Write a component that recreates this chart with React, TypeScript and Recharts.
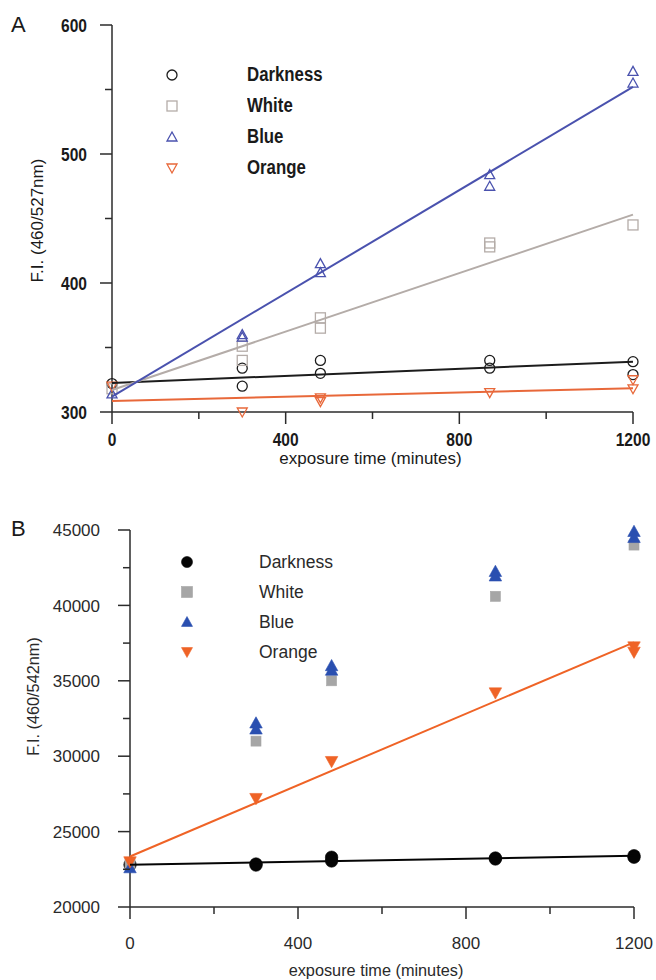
import React from "react";
import { ScatterChart, Scatter, XAxis, YAxis, Legend } from "recharts";

// [time (minutes), F.I.] pairs
const darknessA = [[0, 322], [300, 334], [300, 320], [480, 340], [480, 330], [870, 340], [870, 334], [1200, 339], [1200, 329]];
const whiteA = [[0, 318], [300, 351], [300, 340], [480, 373], [480, 365], [870, 431], [870, 428], [1200, 445]];
const blueA = [[0, 314], [300, 360], [300, 358], [480, 415], [480, 408], [870, 484], [870, 475], [1200, 564], [1200, 555]];
const orangeA = [[0, 320], [300, 300], [480, 311], [480, 308], [870, 315], [1200, 325], [1200, 318]];

// fitted lines, end points
const darknessFitA = [[0, 322.5], [1200, 339]];
const whiteFitA = [[0, 317], [1200, 453]];
const blueFitA = [[0, 312], [1200, 552]];
const orangeFitA = [[0, 308.5], [1200, 318.5]];

const darknessB = [[0, 22800], [300, 22780], [300, 22850], [480, 23300], [480, 23050], [870, 23250], [870, 23180], [1200, 23400], [1200, 23300]];
const whiteB = [[0, 22900], [300, 31000], [480, 35000], [870, 40600], [1200, 44000]];
const blueB = [[0, 22600], [300, 32200], [300, 31800], [480, 36000], [480, 35700], [870, 42250], [870, 41950], [1200, 44900], [1200, 44500]];
const orangeB = [[0, 23000], [300, 27200], [480, 29650], [870, 34200], [1200, 37250], [1200, 36900]];

const darknessFitB = [[0, 22800], [1200, 23400]];
const orangeFitB = [[0, 23350], [1200, 37550]];

const seriesNames = ["Darkness", "White", "Blue", "Orange"];

const xTicks = [0, 200, 400, 600, 800, 1000, 1200];
const xMajor = [0, 400, 800, 1200];
const yTicksA = [300, 350, 400, 450, 500, 550, 600];
const yMajorA = [300, 400, 500, 600];
const yTicksB = [20000, 22500, 25000, 27500, 30000, 32500, 35000, 37500, 40000, 42500, 45000];
const yMajorB = [20000, 25000, 30000, 35000, 40000, 45000];

type Kind = "circle" | "square" | "up" | "down";
type Row = { t: number; v: number };
type Font = { style: React.CSSProperties; sx: number };
const rows = (pairs: number[][]): Row[] => pairs.map(([t, v]) => ({ t, v }));

const AXIS = "#2b2b2b";
const TICK = 12;
const MINOR = 7;

const colorsA = ["#1c1c1c", "#b4aca8", "#4a52ae", "#e8683a"];
const colorsB = ["#050505", "#a6a6a6", "#2a4fb0", "#ef6326"];
const kinds: Kind[] = ["circle", "square", "up", "down"];

function Marker({ cx, cy, kind, color, filled, size }: { cx: number; cy: number; kind: Kind; color: string; filled: boolean; size: number }) {
  const h = size / 2;
  const st = { stroke: color, strokeWidth: filled ? 0.6 : 1.3, fill: filled ? color : "none" };
  if (kind === "circle") return <circle cx={cx} cy={cy} r={h} {...st} />;
  if (kind === "square") return <rect x={cx - h} y={cy - h} width={size} height={size} {...st} />;
  const d =
    kind === "up"
      ? `M${cx},${cy - h}L${cx + h},${cy + h * 0.8}L${cx - h},${cy + h * 0.8}Z`
      : `M${cx},${cy + h}L${cx + h},${cy - h * 0.8}L${cx - h},${cy - h * 0.8}Z`;
  return <path d={d} {...st} />;
}

function makeXTick(major: number[], margin: number, f: Font) {
  return (p: any) => {
    const { x, y, payload } = p;
    const axisY = y - TICK - margin;
    const isMajor = major.includes(payload.value);
    return (
      <g>
        <line x1={x} x2={x} y1={axisY} y2={axisY + (isMajor ? TICK : MINOR)} stroke={AXIS} strokeWidth={1.5} />
        {isMajor && (
          <text transform={`translate(${x},${y}) scale(${f.sx},1)`} dy="0.71em" textAnchor="middle" style={f.style}>
            {payload.value}
          </text>
        )}
      </g>
    );
  };
}

function makeYTick(major: number[], margin: number, f: Font) {
  return (p: any) => {
    const { x, y, payload } = p;
    const axisX = x + TICK + margin;
    const isMajor = major.includes(payload.value);
    return (
      <g>
        <line x1={axisX - (isMajor ? TICK : MINOR)} x2={axisX} y1={y} y2={y} stroke={AXIS} strokeWidth={1.5} />
        {isMajor && (
          <text transform={`translate(${x},${y}) scale(${f.sx},1)`} dy="0.36em" textAnchor="end" style={f.style}>
            {payload.value}
          </text>
        )}
      </g>
    );
  };
}

// axis titles, placed from the axis box
function xTitle(text: string, dx: number, baseline: number, style: React.CSSProperties) {
  return (p: any) => {
    const vb = p.viewBox;
    return (
      <text x={vb.x + vb.width / 2 + dx} y={vb.y + baseline} textAnchor="middle" style={style}>
        {text}
      </text>
    );
  };
}

function yTitle(text: string, fromAxis: number, dy: number, style: React.CSSProperties) {
  return (p: any) => {
    const vb = p.viewBox;
    const cx = vb.x + vb.width - fromAxis;
    const cy = vb.y + vb.height / 2 + dy;
    return (
      <text x={cx} y={cy} dy="0.36em" transform={`rotate(-90 ${cx} ${cy})`} textAnchor="middle" style={style}>
        {text}
      </text>
    );
  };
}

function makeLegend(colors: string[], filled: boolean, size: number, rowH: number, gap: number, f: Font) {
  return () => (
    <div>
      {seriesNames.map((n, i) => (
        <div key={n} style={{ display: "flex", alignItems: "center", height: rowH, whiteSpace: "nowrap" }}>
          <svg width={16} height={16} style={{ flex: "none" }}>
            <Marker cx={8} cy={8} kind={kinds[i]} color={colors[i]} filled={filled} size={size} />
          </svg>
          <span style={{ marginLeft: gap, display: "inline-block", transform: `scaleX(${f.sx})`, transformOrigin: "left center", ...f.style }}>{n}</span>
        </div>
      ))}
    </div>
  );
}

const SANS = "'Liberation Sans', Arial, sans-serif";
const tickA: Font = { style: { fontFamily: SANS, fontSize: 19, fontWeight: 700, fill: "#1a1a1a" }, sx: 0.82 };
const legendA: Font = { style: { fontFamily: SANS, fontSize: 20, fontWeight: 700, color: "#1a1a1a" }, sx: 0.84 };
const titleA: React.CSSProperties = { fontFamily: SANS, fontSize: 17, fill: "#1a1a1a" };
const tickB: Font = { style: { fontFamily: SANS, fontSize: 17, fill: "#2a2a2a" }, sx: 1 };
const legendB: Font = { style: { fontFamily: SANS, fontSize: 17.5, color: "#2a2a2a" }, sx: 1 };
const titleB: React.CSSProperties = { fontFamily: SANS, fontSize: 16.3, fill: "#2a2a2a" };

function PanelA() {
  const pts = [darknessA, whiteA, blueA, orangeA];
  const fits = [darknessFitA, whiteFitA, blueFitA, orangeFitA];
  return (
    <ScatterChart width={656} height={490} margin={{ top: 25, right: 23, bottom: 18, left: 32 }}>
      <XAxis
        type="number"
        dataKey="t"
        domain={[0, 1200]}
        ticks={xTicks}
        height={60}
        tickSize={TICK}
        tickMargin={9}
        tickLine={false}
        axisLine={{ stroke: AXIS, strokeWidth: 1.5 }}
        tick={makeXTick(xMajor, 9, tickA)}
        label={{ content: xTitle("exposure time (minutes)", -2, 52, titleA) }}
      />
      <YAxis
        type="number"
        dataKey="v"
        domain={[300, 600]}
        ticks={yTicksA}
        width={80}
        tickSize={TICK}
        tickMargin={13}
        tickLine={false}
        axisLine={{ stroke: AXIS, strokeWidth: 1.5 }}
        tick={makeYTick(yMajorA, 13, tickA)}
        label={{ content: yTitle("F.I. (460/527nm)", 75, 2, titleA) }}
      />
      <Legend
        layout="vertical"
        align="center"
        verticalAlign="middle"
        wrapperStyle={{ left: 164, top: 59 }}
        content={makeLegend(colorsA, false, 10, 31, 67, legendA)}
      />
      {pts.map((d, i) => (
        <Scatter
          key={seriesNames[i]}
          name={seriesNames[i]}
          data={rows(d)}
          isAnimationActive={false}
          shape={(p: any) => <Marker cx={p.cx} cy={p.cy} kind={kinds[i]} color={colorsA[i]} filled={false} size={10} />}
        />
      ))}
      {fits.map((d, i) => (
        <Scatter
          key={"fit" + i}
          data={rows(d)}
          line={{ stroke: colorsA[i], strokeWidth: 2 }}
          shape={() => <g />}
          legendType="none"
          isAnimationActive={false}
        />
      ))}
    </ScatterChart>
  );
}

function PanelB() {
  const pts = [darknessB, whiteB, blueB, orangeB];
  const fits = [
    { d: darknessFitB, c: colorsB[0] },
    { d: orangeFitB, c: colorsB[3] },
  ];
  return (
    <ScatterChart width={656} height={490} margin={{ top: 40, right: 22, bottom: 0, left: 40 }}>
      <XAxis
        type="number"
        dataKey="t"
        domain={[0, 1200]}
        ticks={xTicks}
        height={73}
        tickSize={TICK}
        tickMargin={18}
        tickLine={false}
        axisLine={{ stroke: AXIS, strokeWidth: 1.5 }}
        tick={makeXTick(xMajor, 18, tickB)}
        label={{ content: xTitle("exposure time (minutes)", -6, 69, titleB) }}
      />
      <YAxis
        type="number"
        dataKey="v"
        domain={[20000, 45000]}
        ticks={yTicksB}
        width={90}
        tickSize={TICK}
        tickMargin={18}
        tickLine={false}
        axisLine={{ stroke: AXIS, strokeWidth: 1.5 }}
        tick={makeYTick(yMajorB, 18, tickB)}
        label={{ content: yTitle("F.I. (460/542nm)", 97, -22, titleB) }}
      />
      <Legend
        layout="vertical"
        align="center"
        verticalAlign="middle"
        wrapperStyle={{ left: 179, top: 57 }}
        content={makeLegend(colorsB, true, 11, 30, 64, legendB)}
      />
      {pts.map((d, i) => (
        <Scatter
          key={seriesNames[i]}
          name={seriesNames[i]}
          data={rows(d)}
          isAnimationActive={false}
          shape={(p: any) => <Marker cx={p.cx} cy={p.cy} kind={kinds[i]} color={colorsB[i]} filled={true} size={i === 1 ? 10 : 12.5} />}
        />
      ))}
      {fits.map((f, i) => (
        <Scatter
          key={"fit" + i}
          data={rows(f.d)}
          line={{ stroke: f.c, strokeWidth: 2 }}
          shape={() => <g />}
          legendType="none"
          isAnimationActive={false}
        />
      ))}
    </ScatterChart>
  );
}

export default function App() {
  const letter: React.CSSProperties = { position: "absolute", left: 11, fontFamily: SANS, fontSize: 22, lineHeight: "24px", color: "#1a1a1a" };
  return (
    <div style={{ position: "absolute", left: 0, top: 0, width: 656, height: 980, background: "#fff", overflow: "hidden" }}>
      <div style={{ position: "absolute", left: 0, top: 0 }}>
        <PanelA />
      </div>
      <div style={{ position: "absolute", left: 0, top: 490 }}>
        <PanelB />
      </div>
      <div style={{ ...letter, top: 13 }}>A</div>
      <div style={{ ...letter, top: 517 }}>B</div>
    </div>
  );
}
